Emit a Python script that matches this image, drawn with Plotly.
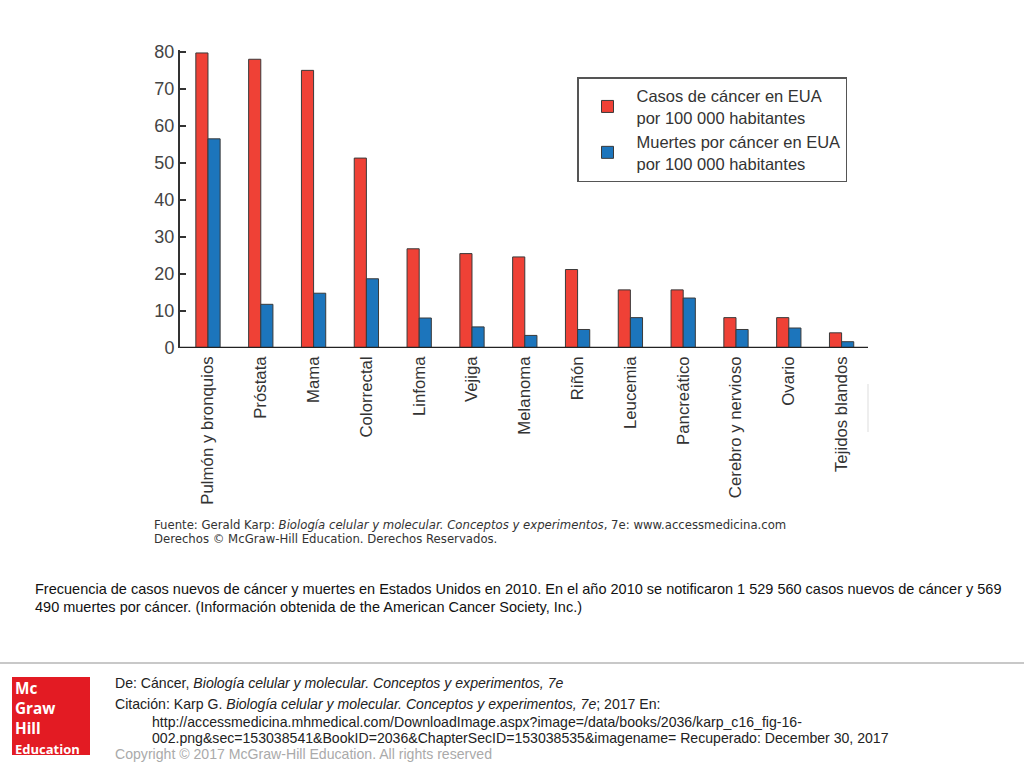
import plotly.graph_objects as go

categories = ["Pulmón y bronquios", "Próstata", "Mama", "Colorrectal", "Linfoma", "Vejiga",
              "Melanoma", "Riñón", "Leucemia", "Pancreático", "Cerebro y nervioso", "Ovario",
              "Tejidos blandos"]
casos = [79.7, 78.0, 75.0, 51.3, 26.8, 25.5, 24.6, 21.2, 15.7, 15.7, 8.2, 8.2, 4.1]
muertes = [56.5, 11.8, 14.8, 18.7, 8.1, 5.7, 3.4, 5.0, 8.2, 13.5, 5.0, 5.4, 1.7]
y_ticks = [0, 10, 20, 30, 40, 50, 60, 70, 80]

W, H = 1024, 768
L, R, T, B = 180, 868, 50, 348


def px(x):
    return (x - L) / (R - L)


def py(y):
    return (B - y) / (B - T)


fig = go.Figure()
fig.add_trace(go.Bar(
    x=categories, y=casos, name="Casos de cáncer en EUA<br>por 100 000 habitantes",
    marker=dict(color="#EF4136", line=dict(color="#3a3a3a", width=1)),
))
fig.add_trace(go.Bar(
    x=categories, y=muertes, name="Muertes por cáncer en EUA<br>por 100 000 habitantes",
    marker=dict(color="#1C75BC", line=dict(color="#3a3a3a", width=1)),
))

fig.update_layout(
    width=W, height=H, autosize=False,
    margin=dict(l=L, r=W - R, t=T, b=H - B, pad=0),
    paper_bgcolor="white", plot_bgcolor="white",
    barmode="group", bargap=0.54, bargroupgap=0,
    font=dict(family="Liberation Sans, Arial, sans-serif", color="#333"),
    showlegend=True,
    legend=dict(x=px(577), y=py(77), xanchor="left", yanchor="top",
                bordercolor="#555", borderwidth=1.5, bgcolor="white",
                font=dict(size=16.5, color="#333", family="Liberation Sans, Arial, sans-serif"),
                tracegroupgap=9, itemwidth=48),
    xaxis=dict(range=[-0.53, 12.5], showgrid=False, zeroline=False, showline=False,
               ticks="", tickangle=-90, tickfont=dict(size=16.8, color="#333"),
               ticklabelstandoff=4, fixedrange=True),
    yaxis=dict(range=[0, 80.5], tickvals=y_ticks, showgrid=False, zeroline=False,
               showline=True, linecolor="#333", linewidth=2, ticks="inside", ticklen=6,
               tickwidth=1.5, tickcolor="#333",
               tickfont=dict(size=18, color="#444"), fixedrange=True),
)

# baseline of x axis
fig.add_shape(type="line", xref="paper", yref="y", x0=0, x1=1, y0=0, y1=0,
              line=dict(color="#222", width=2.5))

anns = []
# source note
anns.append(dict(x=px(152), y=py(525), xref="paper", yref="paper", xanchor="left", yanchor="middle",
                 showarrow=False, align="left",
                 text="Fuente: Gerald Karp: <i>Biología celular y molecular. Conceptos y experimentos</i>, 7e: www.accessmedicina.com",
                 font=dict(size=11.7, color="#333", family="DejaVu Sans, Verdana, sans-serif")))
anns.append(dict(x=px(152), y=py(539), xref="paper", yref="paper", xanchor="left", yanchor="middle",
                 showarrow=False, align="left",
                 text="Derechos © McGraw-Hill Education. Derechos Reservados.",
                 font=dict(size=11.7, color="#333", family="DejaVu Sans, Verdana, sans-serif")))
# caption
anns.append(dict(x=px(33), y=py(589), xref="paper", yref="paper", xanchor="left", yanchor="middle",
                 showarrow=False, align="left",
                 text="Frecuencia de casos nuevos de cáncer y muertes en Estados Unidos en 2010. En el año 2010 se notificaron 1 529 560 casos nuevos de cáncer y 569",
                 font=dict(size=14.5, color="#111")))
anns.append(dict(x=px(33), y=py(607), xref="paper", yref="paper", xanchor="left", yanchor="middle",
                 showarrow=False, align="left",
                 text="490 muertes por cáncer. (Información obtenida de the American Cancer Society, Inc.)",
                 font=dict(size=14.5, color="#111")))
# footer
foot = [
    (113, 683, "De: Cáncer, <i>Biología celular y molecular. Conceptos y experimentos, 7e</i>", "#222"),
    (113, 704, "Citación: Karp G. <i>Biología celular y molecular. Conceptos y experimentos, 7e</i>; 2017 En:", "#222"),
    (150, 722, "http://accessmedicina.mhmedical.com/DownloadImage.aspx?image=/data/books/2036/karp_c16_fig-16-", "#222"),
    (150, 738, "002.png&sec=153038541&BookID=2036&ChapterSecID=153038535&imagename= Recuperado: December 30, 2017", "#222"),
    (113, 754, "Copyright © 2017 McGraw-Hill Education. All rights reserved", "#aaa"),
]
for x0, y0, t, c in foot:
    anns.append(dict(x=px(x0), y=py(y0), xref="paper", yref="paper", xanchor="left", yanchor="middle",
                     showarrow=False, align="left", text=t, font=dict(size=14.1, color=c)))
# logo text (one block so lines do not collide)
anns.append(dict(x=px(14), y=py(677), xref="paper", yref="paper", xanchor="left", yanchor="top",
                 showarrow=False, align="left", borderpad=0,
                 text="<b>Mc<br>Graw<br>Hill<br><span style='font-size:13px'>Education</span></b>",
                 font=dict(size=15.3, color="white", family="Open Sans, Liberation Sans, sans-serif")))
fig.update_layout(annotations=anns)

# separator line and logo
fig.add_shape(type="line", xref="paper", yref="paper", x0=px(0), x1=px(1024), y0=py(663), y1=py(663),
              line=dict(color="#c8c8c8", width=2))
fig.add_shape(type="rect", xref="paper", yref="paper", x0=px(12), x1=px(90), y0=py(755), y1=py(677),
              fillcolor="#E31B23", line=dict(width=0), layer="below")
# faint vertical artifact line right of plot
fig.add_shape(type="line", xref="paper", yref="paper", x0=px(868), x1=px(868), y0=py(384), y1=py(432),
              line=dict(color="#ddd", width=1))

fig.write_html("out.html", config={"displayModeBar": False},
               post_script="document.body.style.margin='0';document.body.style.overflow='hidden';")
